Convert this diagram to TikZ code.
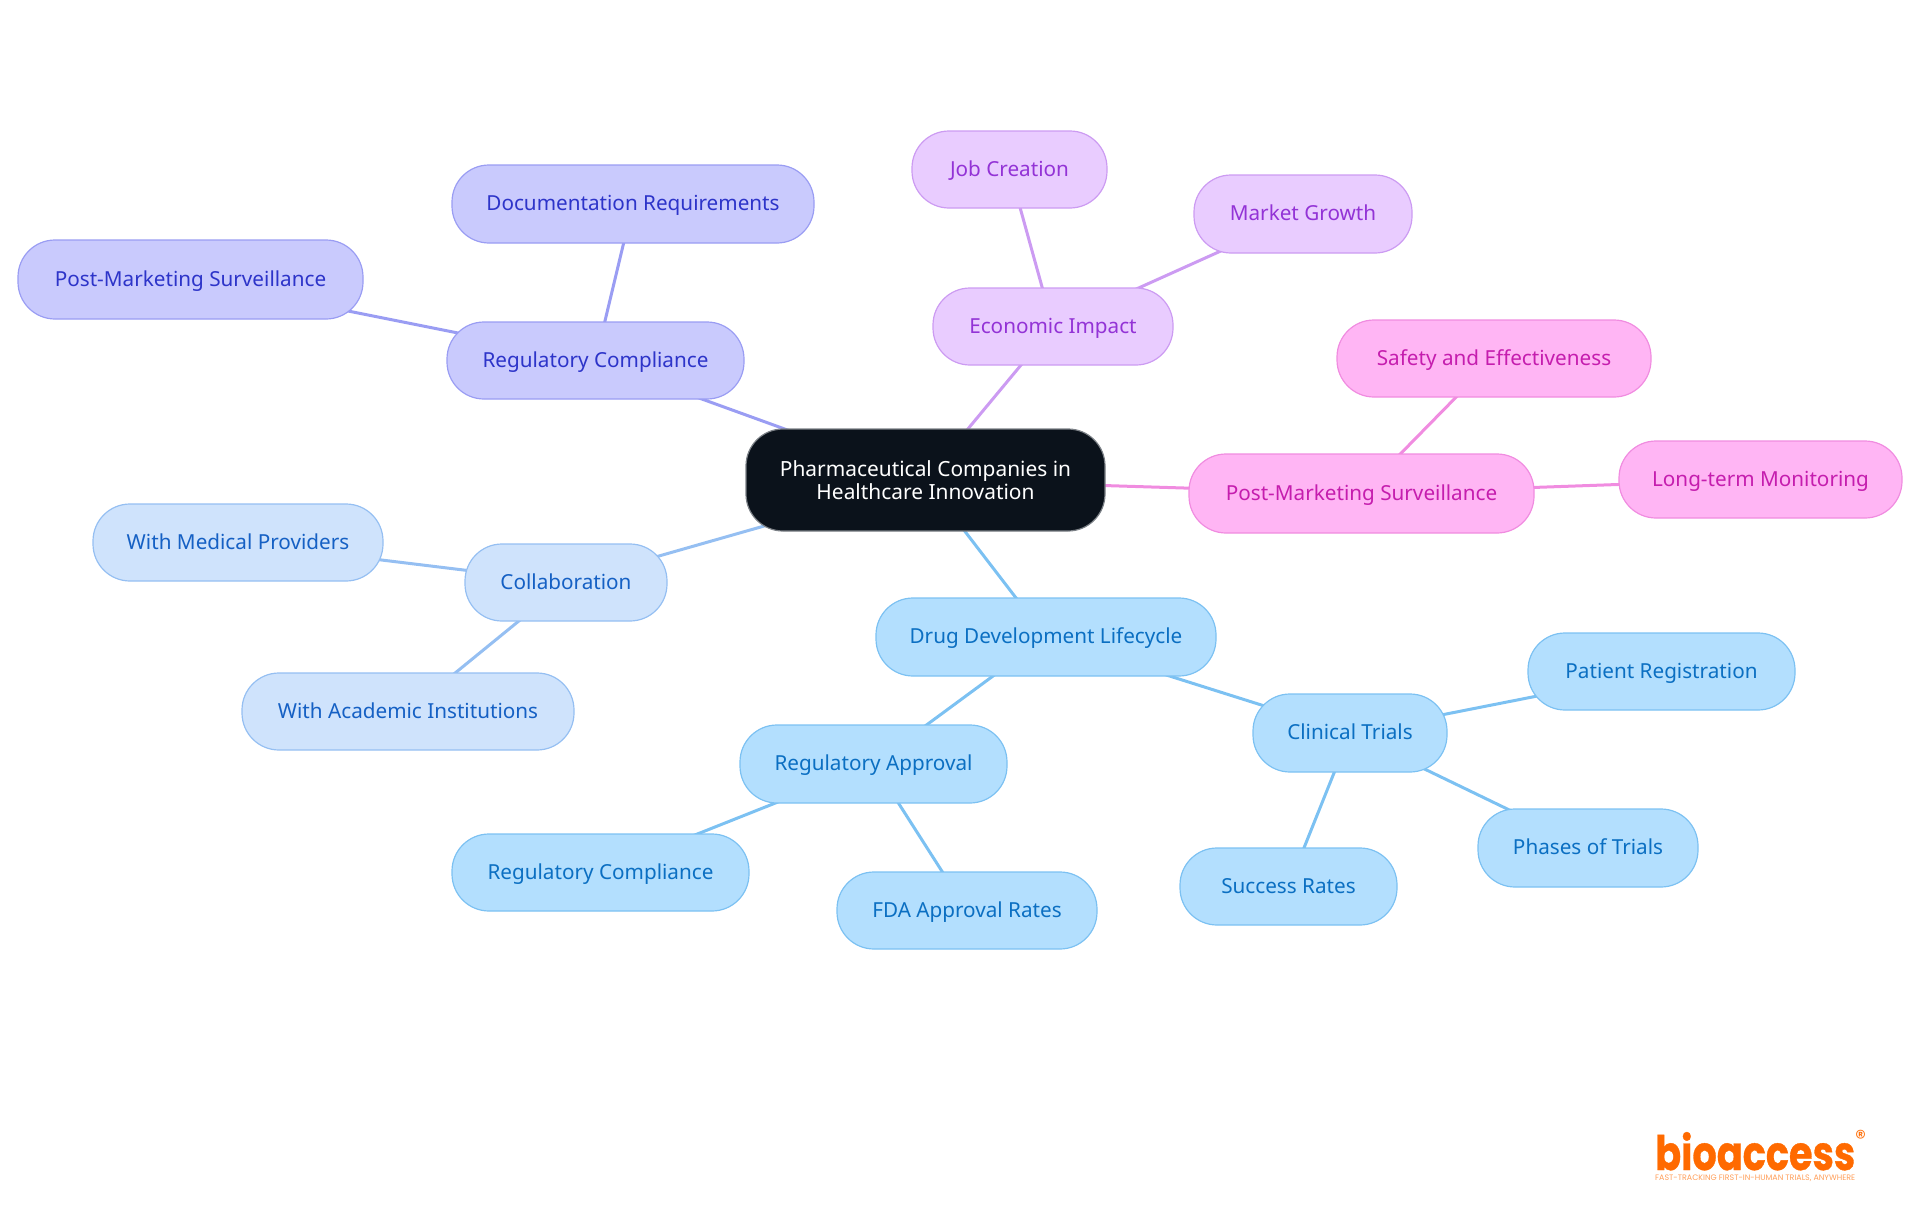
\documentclass[tikz,border=0pt]{standalone}
\usepackage{fontspec}
\setmainfont{Noto Sans}
\newfontfamily\logofont[BoldFeatures={FakeBold=0.8}]{Poppins}
\usetikzlibrary{backgrounds}
\definecolor{rootfill}{HTML}{0B121B}\definecolor{rootline}{HTML}{7B8086}
\definecolor{bfill}{HTML}{B3DFFE}\definecolor{bline}{HTML}{7CC1F2}\definecolor{btext}{HTML}{0B6FC2}
\definecolor{vfill}{HTML}{C9CAFD}\definecolor{vline}{HTML}{9A9DF3}\definecolor{vtext}{HTML}{2D34C9}
\definecolor{pfill}{HTML}{E9CCFF}\definecolor{pline}{HTML}{CC9BF2}\definecolor{ptext}{HTML}{9333D6}
\definecolor{mfill}{HTML}{FFB5F4}\definecolor{mline}{HTML}{F08CE0}\definecolor{mtext}{HTML}{C51DAE}
\definecolor{cfill}{HTML}{CFE3FC}\definecolor{cline}{HTML}{95BFF2}\definecolor{ctext}{HTML}{1560C4}
\definecolor{logoorange}{HTML}{FF6A00}
\tikzset{
  pill/.style={rounded corners=37pt,line width=1.2pt,inner sep=0pt,outer sep=0pt,align=center,
    text height=17pt,text depth=4pt,font=\fontsize{20.7pt}{23pt}\selectfont},
  blue/.style={pill,fill=bfill,draw=bline,text=btext},
  violet/.style={pill,fill=vfill,draw=vline,text=vtext},
  purple/.style={pill,fill=pfill,draw=pline,text=ptext},
  magenta/.style={pill,fill=mfill,draw=mline,text=mtext},
  sky/.style={pill,fill=cfill,draw=cline,text=ctext},
  rootpill/.style={pill,fill=rootfill,draw=rootline,text=white,text height=,text depth=},
  link/.style={line width=3pt}
}
\newcommand{\pillnode}[7]{\node[#1,minimum width={(#5-#3)*1pt},minimum height={(#6-#4)*1pt}] (#2) at ({(#3+#5)/2},{(#4+#6)/2}) {#7};}
\newcommand{\linkup}[3]{\begin{scope}[on background layer]\draw[link,#1] (#2.center) -- (#3.center);\end{scope}}
\begin{document}
\begin{tikzpicture}[x=1pt,y=-1pt]
\useasboundingbox (0,0) rectangle (1920,1215);
\pillnode{rootpill}{root}{746}{429}{1105}{531}{\raisebox{-4pt}{\parbox{340pt}{\centering\fontsize{20.9pt}{23pt}\selectfont Pharmaceutical Companies in\\Healthcare Innovation}}}
\pillnode{violet}{regcomp}{447}{322}{744}{399}{Regulatory Compliance}
\pillnode{violet}{docreq}{452}{165}{814}{243}{Documentation Requirements}
\pillnode{violet}{pmsa}{18}{240}{363}{319}{Post-Marketing Surveillance}
\pillnode{purple}{econ}{933}{288}{1173}{365}{Economic Impact}
\pillnode{purple}{job}{912}{131}{1107}{208}{Job Creation}
\pillnode{purple}{market}{1194}{175}{1412}{253}{Market Growth}
\pillnode{magenta}{pmsb}{1189}{454}{1534}{533}{Post-Marketing Surveillance}
\pillnode{magenta}{safety}{1337}{320}{1651}{397}{Safety and Effectiveness}
\pillnode{magenta}{long}{1619}{441}{1902}{518}{Long-term Monitoring}
\pillnode{sky}{collab}{465}{544}{667}{621}{Collaboration}
\pillnode{sky}{wmed}{93}{504}{383}{581}{With Medical Providers}
\pillnode{sky}{wacad}{242}{673}{574}{750}{With Academic Institutions}
\pillnode{blue}{drug}{876}{598}{1216}{676}{Drug Development Lifecycle}
\pillnode{blue}{clinical}{1253}{694}{1447}{772}{Clinical Trials}
\pillnode{blue}{patient}{1528}{633}{1795}{710}{Patient Registration}
\pillnode{blue}{phases}{1478}{809}{1698}{887}{Phases of Trials}
\pillnode{blue}{success}{1180}{848}{1397}{925}{Success Rates}
\pillnode{blue}{regapp}{740}{725}{1007}{803}{Regulatory Approval}
\pillnode{blue}{rcb}{452}{834}{749}{911}{Regulatory Compliance}
\pillnode{blue}{fda}{837}{872}{1097}{949}{FDA Approval Rates}
\linkup{vline}{root}{regcomp}
\linkup{vline}{regcomp}{docreq}
\linkup{vline}{regcomp}{pmsa}
\linkup{pline}{root}{econ}
\linkup{pline}{econ}{job}
\linkup{pline}{econ}{market}
\linkup{mline}{root}{pmsb}
\linkup{mline}{pmsb}{safety}
\linkup{mline}{pmsb}{long}
\linkup{cline}{root}{collab}
\linkup{cline}{collab}{wmed}
\linkup{cline}{collab}{wacad}
\linkup{bline}{root}{drug}
\linkup{bline}{drug}{clinical}
\linkup{bline}{drug}{regapp}
\linkup{bline}{clinical}{patient}
\linkup{bline}{clinical}{phases}
\linkup{bline}{clinical}{success}
\linkup{bline}{regapp}{rcb}
\linkup{bline}{regapp}{fda}
\node[inner sep=0pt,anchor=base west,text=logoorange] (logo) at (1655,1170) {\resizebox{200pt}{38pt}{\logofont\bfseries bioaccess}};
\node[inner sep=0pt,anchor=base west,text=logoorange] (reg) at (1855,1145) {\resizebox{11pt}{!}{\logofont\char"00AE}};
\node[inner sep=0pt,anchor=base west,text=logoorange!65] (tag) at (1655,1180) {\resizebox{200pt}{!}{\logofont FAST-TRACKING FIRST-IN-HUMAN TRIALS, ANYWHERE}};
\end{tikzpicture}
\end{document}
